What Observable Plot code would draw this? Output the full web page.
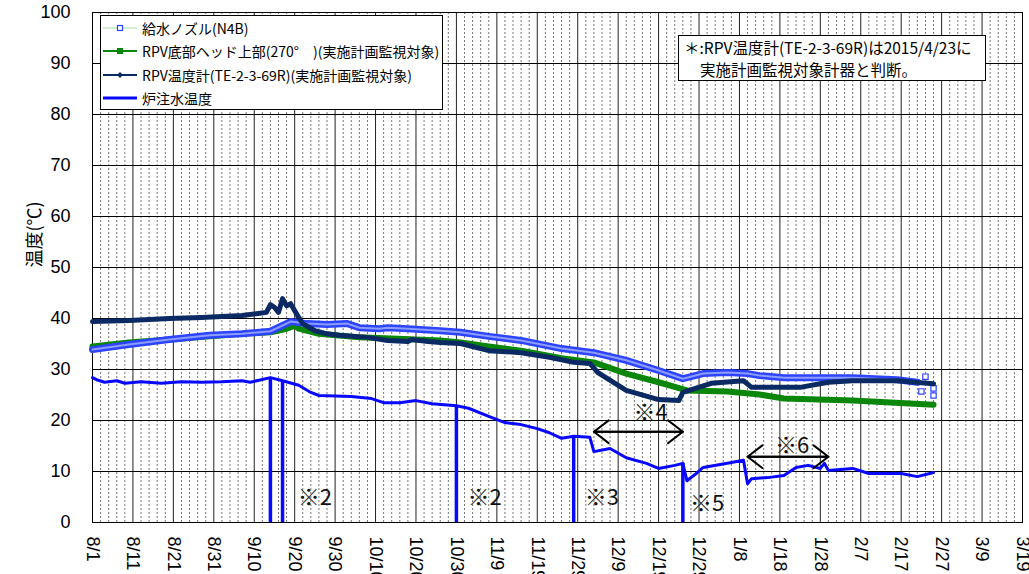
<!DOCTYPE html>
<html>
<head>
<meta charset="utf-8">
<script src="https://cdn.jsdelivr.net/npm/d3@7"></script>
<script src="https://cdn.jsdelivr.net/npm/@observablehq/plot@0.6"></script>
<style>
  html, body { margin: 0; padding: 0; background: #fff; overflow: hidden; }
  #wrap { position: relative; width: 1029px; height: 574px; }
  #wrap svg { display: block; }
  .legend { position: absolute; left: 100px; top: 15px; width: 341px; height: 93px; background: #fff; border: 1px solid #000;
            font-family: 'Noto Sans CJK JP', 'Liberation Sans', sans-serif; font-size: 14px; color: #000; }
  .legend .row { position: absolute; left: 0; height: 20px; display: flex; align-items: center; white-space: nowrap; }
  .legend svg { width: 40px; height: 20px; margin-right: 1px; }
  .note { position: absolute; left: 678px; top: 35px; width: 306px; height: 44px; background: #fff; border: 1px solid #000;
          font-family: 'Noto Sans CJK JP', 'Liberation Sans', sans-serif; font-size: 15.5px; line-height: 22px; color: #000; white-space: nowrap; }
</style>
</head>
<body>
<div id="wrap"></div>
<script>
// ---- series (date, °C) ----
const nozzleTemp = [ // 給水ノズル(N4B)
  ["2014-08-01",33.9],["2014-08-10",34.9],["2014-08-20",35.9],["2014-08-30",36.7],["2014-09-07",37.0],
  ["2014-09-14",37.5],["2014-09-19",39.4],["2014-09-23",39.0],["2014-09-28",38.8],["2014-10-03",39.0],
  ["2014-10-06",38.2],["2014-10-11",38.0],["2014-10-13",38.2],["2014-10-18",38.0],["2014-10-26",37.6],
  ["2014-10-31",37.3],["2014-11-07",36.5],["2014-11-15",35.7],["2014-11-25",34.1],["2014-12-03",33.3],
  ["2014-12-11",31.8],["2014-12-19",29.8],["2014-12-25",28.2],["2014-12-26",28.4],["2014-12-30",29.2],
  ["2015-01-05",29.4],["2015-01-10",29.2],["2015-01-13",28.8],["2015-01-19",28.4],["2015-02-05",28.4],
  ["2015-02-16",28.0],["2015-02-21",27.5]
];
const nozzleTail = [ // scattered last readings
  ["2015-02-23",28.6],["2015-02-22",25.7],["2015-02-25",26.3],["2015-02-25",24.9]
];
const headTemp = [ // RPV底部ヘッド上部(270°)
  ["2014-08-01",34.5],["2014-08-10",35.3],["2014-08-20",35.9],["2014-08-30",36.5],["2014-09-07",37.0],
  ["2014-09-14",37.3],["2014-09-18",38.0],["2014-09-20",38.6],["2014-09-21",38.0],["2014-09-26",37.0],
  ["2014-10-06",36.3],["2014-10-14",36.1],["2014-10-26",35.7],["2014-10-31",35.3],["2014-11-07",34.5],
  ["2014-11-15",33.7],["2014-11-25",32.2],["2014-12-03",31.4],["2014-12-11",29.2],["2014-12-19",27.5],
  ["2014-12-26",25.9],["2015-01-05",25.7],["2015-01-13",25.1],["2015-01-19",24.3],["2015-02-05",23.9],
  ["2015-02-25",23.1]
];
const rpvTemp = [ // RPV温度計(TE-2-3-69R)
  ["2014-08-01",39.4],["2014-08-10",39.6],["2014-08-20",40.0],["2014-08-28",40.2],["2014-09-07",40.6],
  ["2014-09-11",41.0],["2014-09-13",41.2],["2014-09-14",42.7],["2014-09-15",42.2],["2014-09-16",41.2],
  ["2014-09-17",43.9],["2014-09-18",42.5],["2014-09-19",42.9],["2014-09-21",40.2],["2014-09-22",39.0],
  ["2014-09-25",37.6],["2014-09-28",37.0],["2014-10-01",36.7],["2014-10-08",36.3],["2014-10-13",35.7],
  ["2014-10-18",35.5],["2014-10-19",35.9],["2014-10-23",35.5],["2014-10-26",35.3],["2014-10-31",35.1],
  ["2014-11-07",33.7],["2014-11-15",33.3],["2014-11-22",32.4],["2014-11-28",31.4],["2014-12-02",31.2],
  ["2014-12-04",29.4],["2014-12-11",25.9],["2014-12-19",24.1],["2014-12-24",23.9],["2014-12-25",25.5],
  ["2015-01-01",27.3],["2015-01-09",27.8],["2015-01-11",26.5],["2015-01-23",26.5],["2015-01-30",27.5],
  ["2015-02-05",27.8],["2015-02-16",27.8],["2015-02-25",27.2]
];
const injectTemp = [ // 炉注水温度
  ["2014-08-01",28.4],["2014-08-02",28.0],["2014-08-04",27.5],["2014-08-07",27.8],["2014-08-09",27.3],
  ["2014-08-13",27.6],["2014-08-18",27.3],["2014-08-23",27.6],["2014-08-28",27.5],["2014-09-02",27.6],
  ["2014-09-07",27.8],["2014-09-09",27.5],["2014-09-14",28.4],["2014-09-17",27.8],["2014-09-21",26.9],
  ["2014-09-24",25.5],["2014-09-26",24.9],["2014-10-04",24.7],["2014-10-09",24.3],["2014-10-12",23.5],
  ["2014-10-16",23.5],["2014-10-20",23.9],["2014-10-24",23.3],["2014-10-30",22.9],["2014-11-02",22.4],
  ["2014-11-07",20.8],["2014-11-11",19.6],["2014-11-15",19.2],["2014-11-19",18.4],["2014-11-22",17.6],
  ["2014-11-25",16.5],["2014-11-28",16.9],["2014-12-02",16.7],["2014-12-03",13.9],["2014-12-07",14.5],
  ["2014-12-11",12.7],["2014-12-16",11.6],["2014-12-19",10.6],["2014-12-23",11.2],["2014-12-25",11.6],
  ["2014-12-26",8.2],["2014-12-28",9.4],["2014-12-30",10.8],["2015-01-05",11.6],["2015-01-09",12.2],
  ["2015-01-10",7.6],["2015-01-11",8.6],["2015-01-15",8.8],["2015-01-19",9.2],["2015-01-22",10.8],
  ["2015-01-25",11.2],["2015-01-28",10.6],["2015-01-29",11.6],["2015-01-30",10.2],["2015-02-05",10.6],
  ["2015-02-09",9.6],["2015-02-17",9.6],["2015-02-21",9.0],["2015-02-25",9.8]
];
// drop-outs of 炉注水温度 to 0
const dropDates = ["2014-09-14","2014-09-17","2014-10-30","2014-11-28","2014-12-25"];
const dropTops  = [28.4, 27.8, 22.9, 16.9, 11.6];

// annotations
const noteLabels = ["※2","※2","※3","※5","※4","※6"];
const noteDates  = ["2014-09-25","2014-11-06","2014-12-05","2014-12-31","2014-12-17","2015-01-21"];
const noteValues = [4.9, 4.9, 4.9, 3.7, 21.4, 15.1];
const spanStarts = ["2014-12-03","2015-01-10"];
const spanEnds   = ["2014-12-25","2015-01-30"];
const spanValues = [17.8, 12.9];

// axes
const xStart = "2014-08-01", xEnd = "2015-03-19";
const tickDates = ["2014-08-01","2014-08-11","2014-08-21","2014-08-31","2014-09-10","2014-09-20","2014-09-30",
  "2014-10-10","2014-10-20","2014-10-30","2014-11-09","2014-11-19","2014-11-29","2014-12-09","2014-12-19",
  "2014-12-29","2015-01-08","2015-01-18","2015-01-28","2015-02-07","2015-02-17","2015-02-27","2015-03-09","2015-03-19"];
const tickLabels = ["8/1","8/11","8/21","8/31","9/10","9/20","9/30","10/10","10/20","10/30","11/9","11/19",
  "11/29","12/9","12/19","12/29","1/8","1/18","1/28","2/7","2/17","2/27","3/9","3/19"];
const yTicks = [0,10,20,30,40,50,60,70,80,90,100];
const yLabel = "温度(℃)";
const seriesNames = ["給水ノズル(N4B)","RPV底部ヘッド上部(270°　)(実施計画監視対象)","RPV温度計(TE-2-3-69R)(実施計画監視対象)","炉注水温度"];
const noteText = ["＊:RPV温度計(TE-2-3-69R)は2015/4/23に","実施計画監視対象計器と判断。"];

// ---- build ----
const toRows = arr => arr.map(([d, v]) => ({date: new Date(d), value: v}));
const nozzle = toRows(nozzleTemp), tail = toRows(nozzleTail), head = toRows(headTemp),
      rpv = toRows(rpvTemp), inject = toRows(injectTemp);
const drops = dropDates.map((d, i) => ({date: new Date(d), top: dropTops[i]}));
const notes = noteLabels.map((t, i) => ({text: t, date: new Date(noteDates[i]), value: noteValues[i]}));
const spans = spanStarts.map((s, i) => ({x1: new Date(s), x2: new Date(spanEnds[i]), y: spanValues[i]}));
const t0 = new Date(xStart), t1 = new Date(xEnd);
const nDays = d3.utcDay.count(t0, t1);
const minorGrid = d3.range(0, nDays + 1, 2).map(i => d3.utcDay.offset(t0, i)).filter(d => (d3.utcDay.count(t0, d) % 10) !== 0);
const ticks = tickDates.map(d => new Date(d));
const labelOf = new Map(ticks.map((d, i) => [+d, tickLabels[i]]));

const C = {nozzle: "#2c44ff", nozzleIn: "#8d9cff", head: "#0a860a", rpv: "#0b2a63", inject: "#0808ff"};

const chart = Plot.plot({
  width: 1029, height: 574,
  marginLeft: 92, marginRight: 7, marginTop: 12, marginBottom: 52,
  style: {fontFamily: "'Liberation Sans', Arial, 'Noto Sans CJK JP', sans-serif", fontSize: "18px", color: "#000", background: "#fff", overflow: "visible"},
  x: {type: "utc", domain: [t0, t1], ticks: ticks, tickFormat: d => labelOf.get(+d), tickRotate: 90, tickSize: 0, tickPadding: 14, label: null},
  y: {domain: [0, 100], ticks: yTicks, tickSize: 0, tickPadding: 22, label: null},
  marks: [
    Plot.ruleX(minorGrid, {stroke: "#777", strokeDasharray: "2,2", strokeWidth: 1}),
    Plot.ruleX(ticks, {stroke: "#222", strokeWidth: 1}),
    Plot.ruleY(yTicks, {stroke: "#000", strokeWidth: 1}),
    Plot.frame({stroke: "#000", strokeWidth: 1}),
    Plot.line(head, {x: "date", y: "value", stroke: C.head, strokeWidth: 6}),
    Plot.line(nozzle, {x: "date", y: "value", stroke: C.nozzle, strokeWidth: 7}),
    Plot.line(nozzle, {x: "date", y: "value", stroke: C.nozzleIn, strokeWidth: 2}),
    Plot.dot(tail, {x: "date", y: "value", symbol: "square", r: 3, stroke: C.nozzle, fill: "#fff", strokeWidth: 1.2}),
    Plot.line(rpv, {x: "date", y: "value", stroke: C.rpv, strokeWidth: 5}),
    Plot.ruleX(drops, {x: "date", y1: 0, y2: "top", stroke: C.inject, strokeWidth: 3.5}),
    Plot.line(inject, {x: "date", y: "value", stroke: C.inject, strokeWidth: 3}),
    Plot.arrow(spans, {x1: "x1", y1: "y", x2: "x2", y2: "y", stroke: "#000", strokeWidth: 2, headLength: 14, headAngle: 75}),
    Plot.arrow(spans, {x1: "x2", y1: "y", x2: "x1", y2: "y", stroke: "#000", strokeWidth: 2, headLength: 14, headAngle: 75}),
    Plot.text(notes, {x: "date", y: "value", text: "text", fontSize: 22, fill: "#111", fontFamily: "'Noto Sans CJK JP', 'DejaVu Sans', sans-serif"}),
    Plot.text([yLabel], {frameAnchor: "left", dx: -57, rotate: -90, text: d => d, fontSize: 18, fontFamily: "'Noto Sans CJK JP', sans-serif", fill: "#000"})
  ]
});

const wrap = document.getElementById("wrap");
wrap.appendChild(chart);

// legend
const sw = [
  `<line x1="2" y1="10" x2="36" y2="10" stroke="#a6dca6" stroke-width="1"/><rect x="16.5" y="7.5" width="5" height="5" fill="#fff" stroke="${C.nozzle}" stroke-width="1.2"/>`,
  `<line x1="2" y1="10" x2="36" y2="10" stroke="${C.head}" stroke-width="2"/><rect x="16" y="7" width="6" height="6" fill="${C.head}"/>`,
  `<line x1="2" y1="10" x2="36" y2="10" stroke="${C.rpv}" stroke-width="2"/><path d="M19,7 L22,10 L19,13 L16,10 Z" fill="${C.rpv}"/>`,
  `<line x1="2" y1="10" x2="36" y2="10" stroke="${C.inject}" stroke-width="3"/>`
];
const rowTops = [2, 25, 49, 72];
const legend = document.createElement("div");
legend.className = "legend";
legend.innerHTML = seriesNames.map((n, i) =>
  `<div class="row" style="top:${rowTops[i]}px"><svg viewBox="0 0 40 20">${sw[i]}</svg><span>${n}</span></div>`).join("");
wrap.appendChild(legend);

const note = document.createElement("div");
note.className = "note";
note.innerHTML = `<div style="padding-left:5px">${noteText[0]}</div><div style="padding-left:21px">${noteText[1]}</div>`;
wrap.appendChild(note);
</script>
</body>
</html>
